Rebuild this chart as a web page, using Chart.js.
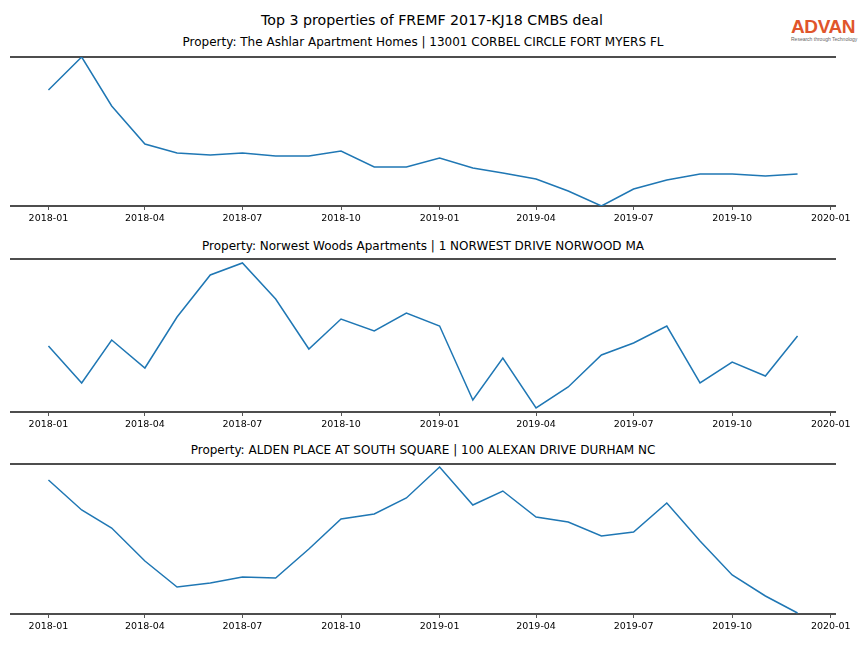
<!DOCTYPE html>
<html>
<head>
<meta charset="utf-8">
<script src="https://cdn.jsdelivr.net/npm/chart.js@4.4.0/dist/chart.umd.min.js"></script>
<style>
  body { margin: 0; background: #fff; font-family: "DejaVu Sans", sans-serif; }
  #page { position: relative; width: 864px; height: 648px; overflow: hidden; }
  .title { position: absolute; left: 0; width: 864px; text-align: center; font-size: 14.2px; line-height: 16px; top: 12px; }
  .sub { position: absolute; left: 11px; width: 824px; text-align: center; font-size: 12px; line-height: 14px; }
  canvas { position: absolute; left: 0; }
  #logo { position: absolute; left: 791px; top: 17px; width: 72px; }
  #logo .name { font-family: "Liberation Sans", Arial, sans-serif; font-weight: bold; font-size: 19px; line-height: 19px; color: #e0552b; letter-spacing: -0.4px; }
  #logo .tag { font-family: "Liberation Sans", Arial, sans-serif; font-size: 5px; line-height: 6px; color: #666; white-space: nowrap; }
</style>
</head>
<body>
<div id="page">
  <div class="title">Top 3 properties of FREMF 2017-KJ18 CMBS deal</div>
  <div id="logo"><div class="name">ADVAN</div><div class="tag">Research through Technology</div></div>
  <div class="sub" id="t1" style="top:35px"></div>
  <canvas id="c1" width="864" height="187" style="top:49px"></canvas>
  <div class="sub" id="t2" style="top:239px"></div>
  <canvas id="c2" width="864" height="191" style="top:251px"></canvas>
  <div class="sub" id="t3" style="top:443px"></div>
  <canvas id="c3" width="864" height="188" style="top:456px"></canvas>
</div>
<script>
// monthly observations, 2018-01 .. 2019-12
const months = [
  '2018-01','2018-02','2018-03','2018-04','2018-05','2018-06',
  '2018-07','2018-08','2018-09','2018-10','2018-11','2018-12',
  '2019-01','2019-02','2019-03','2019-04','2019-05','2019-06',
  '2019-07','2019-08','2019-09','2019-10','2019-11','2019-12'
];
const tickLabels = ['2018-01','2018-04','2018-07','2018-10','2019-01','2019-04','2019-07','2019-10','2020-01'];

const titles = [
  'Property: The Ashlar Apartment Homes | 13001 CORBEL CIRCLE FORT MYERS FL',
  'Property: Norwest Woods Apartments | 1 NORWEST DRIVE NORWOOD MA',
  'Property: ALDEN PLACE AT SOUTH SQUARE | 100 ALEXAN DRIVE DURHAM NC'
];

// relative values (no y scale shown on the original)
const ashlar = [116,149,100,62,53,51,53,50,50,55,39,39,48,38,33,27,15,0,17,26,32,32,30,32];
const norwest = [66,29,72,44,95,137,149,113,63,93,81,99,86,12,54,4,25,57,69,86,29,50,36,76];
const alden = [134,104,86,53,27,31,37,36,65,95,100,116,147,109,123,97,92,78,82,111,73,39,18,1];

const ashlarRange = [0, 149];
const norwestRange = [0, 153];
const aldenRange = [0, 150];

const dayOf = s => {
  const [y, m] = s.split('-').map(Number);
  return Date.UTC(y, m - 1, 1) / 86400000;
};

const first = dayOf(months[0]);
const last = dayOf(months[months.length - 1]);
const margin = (last - first) * 0.05;
const xMin = first - margin;
const xMax = last + margin;

const spine = { display: true, color: '#4d4d4d', width: 2 };

function drawPanel(canvasId, titleId, title, values, range) {
  document.getElementById(titleId).textContent = title;
  new Chart(document.getElementById(canvasId), {
    type: 'line',
    data: {
      datasets: [{
        data: months.map((m, i) => ({ x: dayOf(m), y: values[i] })),
        borderColor: '#1f77b4',
        borderWidth: 1.5,
        pointRadius: 0,
        tension: 0,
        fill: false
      }]
    },
    options: {
      responsive: false,
      animation: false,
      layout: { padding: { top: 8, left: 11, right: 29, bottom: 0 } },
      plugins: { legend: { display: false }, tooltip: { enabled: false } },
      scales: {
        x: {
          type: 'linear',
          min: xMin,
          max: xMax,
          afterFit: s => { s.height = 30; },
          afterBuildTicks: s => { s.ticks = tickLabels.map(t => ({ value: dayOf(t) })); },
          ticks: {
            autoSkip: false,
            maxRotation: 0,
            padding: 3,
            color: '#000',
            font: { family: 'DejaVu Sans', size: 9.5 },
            callback: (v, i) => tickLabels[i]
          },
          grid: { display: true, drawOnChartArea: false, drawTicks: true, tickLength: 4, color: '#555', lineWidth: 1 },
          border: spine
        },
        xTop: {
          type: 'linear',
          position: 'top',
          min: xMin,
          max: xMax,
          afterFit: s => { s.height = 0; },
          ticks: { display: false },
          grid: { display: false },
          border: spine
        },
        y: { display: false, min: range[0], max: range[1] }
      }
    }
  });
}

drawPanel('c1', 't1', titles[0], ashlar, ashlarRange);
drawPanel('c2', 't2', titles[1], norwest, norwestRange);
drawPanel('c3', 't3', titles[2], alden, aldenRange);
</script>
</body>
</html>
